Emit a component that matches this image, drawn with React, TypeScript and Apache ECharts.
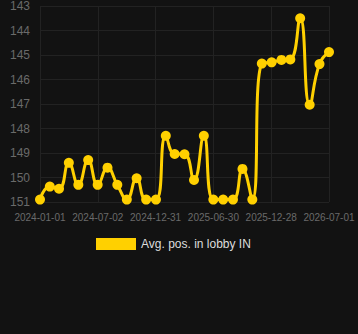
import React, { useEffect, useRef } from "react";
import * as echarts from "echarts";

const dates: string[] = [
  "2024-01-01", "2024-02-01", "2024-03-01", "2024-04-01", "2024-05-01", "2024-06-01",
  "2024-07-01", "2024-08-01", "2024-09-01", "2024-10-01", "2024-11-01", "2024-12-01",
  "2025-01-01", "2025-02-01", "2025-03-01", "2025-04-01", "2025-05-01", "2025-06-01",
  "2025-07-01", "2025-08-01", "2025-09-01", "2025-10-01", "2025-11-01", "2025-12-01",
  "2026-01-01", "2026-02-01", "2026-03-01", "2026-04-01", "2026-05-01", "2026-06-01",
  "2026-07-01",
];

const avgPos: number[] = [
  150.9, 150.37, 150.46, 149.4, 150.3, 149.29, 150.3, 149.6, 150.3, 150.9, 150.03, 150.9,
  150.9, 148.3, 149.04, 149.05, 150.1, 148.3, 150.9, 150.9, 150.9, 149.65, 150.9,
  145.35, 145.3, 145.2, 145.18, 143.5, 147.03, 145.37, 144.88,
];

const xTickLabels: string[] = [
  "2024-01-01", "2024-07-02", "2024-12-31", "2025-06-30", "2025-12-28", "2026-07-01",
];

const seriesName = "Avg. pos. in lobby IN";

const DAY = 86400000;
const origin = Date.UTC(2024, 0, 1);
const toDays = (d: string) => {
  const [y, m, dd] = d.split("-").map(Number);
  return (Date.UTC(y, m - 1, dd) - origin) / DAY;
};

export default function App() {
  const ref = useRef<HTMLDivElement>(null);

  useEffect(() => {
    document.body.style.margin = "0";
    document.body.style.background = "#121212";
    if (!ref.current) return;
    const chart = echarts.init(ref.current, null, { renderer: "svg" });
    const maxDays = toDays(xTickLabels[xTickLabels.length - 1]);
    const interval = maxDays / (xTickLabels.length - 1);
    chart.setOption({
      animation: false,
      backgroundColor: "#121212",
      grid: { left: 40, right: 29, top: 6, bottom: 132, containLabel: false },
      xAxis: {
        type: "value",
        min: 0,
        max: maxDays,
        interval,
        axisLine: { show: false },
        axisTick: { show: false },
        splitLine: { show: true, lineStyle: { color: "#222222", width: 1 } },
        axisLabel: {
          color: "#6a6a6a",
          fontSize: 10,
          fontFamily: "Liberation Sans, Arial, sans-serif",
          margin: 10,
          formatter: (_v: number, i: number) => xTickLabels[i] ?? "",
        },
      },
      yAxis: {
        type: "value",
        inverse: true,
        min: 143,
        max: 151,
        interval: 1,
        axisLine: { show: false },
        axisTick: { show: false },
        splitLine: { show: true, lineStyle: { color: "#222222", width: 1 } },
        axisLabel: {
          color: "#6a6a6a",
          fontSize: 12,
          fontFamily: "Liberation Sans, Arial, sans-serif",
          margin: 10,
        },
      },
      legend: {
        show: true,
        top: 233,
        left: 91,
        itemWidth: 40,
        itemHeight: 12,
        itemGap: 10,
        icon: "rect",
        textStyle: {
          color: "#dddddd",
          fontSize: 12,
          fontFamily: "Liberation Sans, Arial, sans-serif",
        },
        data: [seriesName],
      },
      series: [
        {
          name: seriesName,
          type: "line",
          smooth: true,
          data: dates.map((d, i) => [toDays(d), avgPos[i]]),
          symbol: "circle",
          symbolSize: 10,
          itemStyle: { color: "#FFD000" },
          lineStyle: { color: "#FFD000", width: 3 },
        },
      ],
    });
    return () => chart.dispose();
  }, []);

  return <div ref={ref} style={{ width: 358, height: 334 }} />;
}
